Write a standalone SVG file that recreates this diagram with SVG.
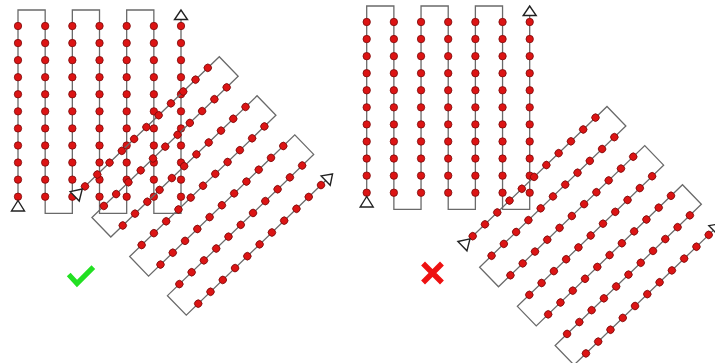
<svg xmlns="http://www.w3.org/2000/svg" width="715" height="363" viewBox="0 0 715 363">
  <style>
    .route { fill: none; stroke: #6a6a6a; stroke-width: 1.3; }
    .dot { fill: #dc1414; stroke: #7a0a0a; stroke-width: 0.8; }
    .tri { fill: #ffffff; stroke: #222222; stroke-width: 1.4; stroke-linejoin: miter; }
  </style>
  <defs>
    <g id="col">
      <circle class="dot" cx="0" cy="16" r="3.7"/>
      <circle class="dot" cx="0" cy="33.07" r="3.7"/>
      <circle class="dot" cx="0" cy="50.14" r="3.7"/>
      <circle class="dot" cx="0" cy="67.21" r="3.7"/>
      <circle class="dot" cx="0" cy="84.28" r="3.7"/>
      <circle class="dot" cx="0" cy="101.35" r="3.7"/>
      <circle class="dot" cx="0" cy="118.42" r="3.7"/>
      <circle class="dot" cx="0" cy="135.49" r="3.7"/>
      <circle class="dot" cx="0" cy="152.56" r="3.7"/>
      <circle class="dot" cx="0" cy="169.63" r="3.7"/>
      <circle class="dot" cx="0" cy="186.7" r="3.7"/>
    </g>
    <g id="survey">
      <path class="route" d="M0,190.5 V0 H27.17 V203.3 H54.34 V0 H81.51 V203.3 H108.68 V0 H135.85 V203.3 H163 V9.5"/>
      <use href="#col" x="0"/>
      <use href="#col" x="27.17"/>
      <use href="#col" x="54.34"/>
      <use href="#col" x="81.51"/>
      <use href="#col" x="108.68"/>
      <use href="#col" x="135.85"/>
      <use href="#col" x="163"/>
      <polygon class="tri" points="0,190.5 -6.5,201 6.5,201"/>
      <polygon class="tri" points="163,0 156.5,9.5 169.5,9.5"/>
    </g>
  </defs>

  <rect x="0" y="0" width="715" height="363" fill="#ffffff"/>

  <g id="left-grid">
    <use href="#survey" transform="translate(18,10)"/>
  </g>
  <g id="left-rotated">
    <use href="#survey" transform="translate(219.3,56.7) rotate(46)"/>
  </g>
  <g id="right-grid">
    <use href="#survey" transform="translate(366.7,6)"/>
  </g>
  <g id="right-rotated">
    <use href="#survey" transform="translate(607,106.5) rotate(46)"/>
  </g>

  <g id="check">
    <polyline points="70.5,276.5 77,283.5 91.5,269" fill="none" stroke="#22e022" stroke-width="5.2" stroke-linecap="square" stroke-linejoin="miter"/>
  </g>
  <g id="cross">
    <path d="M425,265.5 L440,280.5 M440,265.5 L425,280.5" fill="none" stroke="#ee1111" stroke-width="5.5" stroke-linecap="square"/>
  </g>
</svg>
